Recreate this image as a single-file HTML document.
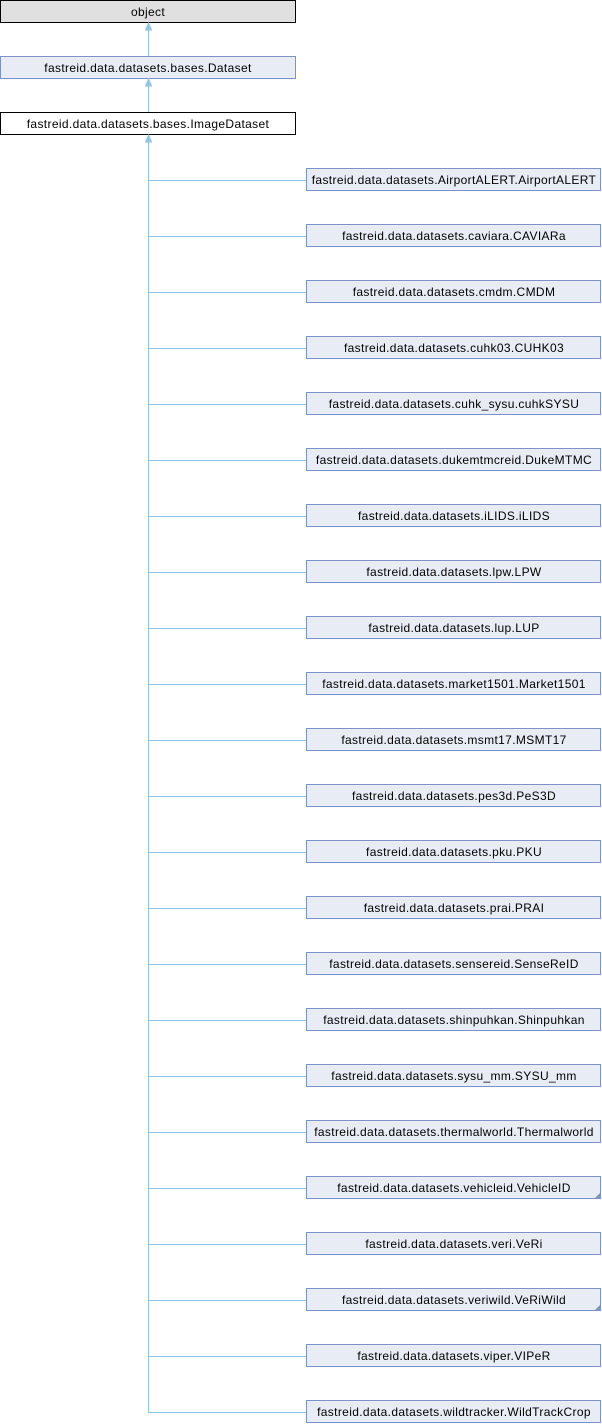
<!DOCTYPE html>
<html><head><meta charset="utf-8"><style>
html,body{margin:0;padding:0;background:#fff}
svg{display:block}
text{font-family:"Liberation Sans",sans-serif;font-size:12px;fill:#000;letter-spacing:0.35px}
</style></head><body>
<svg width="602" height="1424" viewBox="0 0 602 1424" xmlns="http://www.w3.org/2000/svg">
<g id="top">
<rect x="0.5" y="0.5" width="295" height="22" fill="#e0e0e0" stroke="#000"/>
<text x="148" y="16" text-anchor="middle">object</text>
<rect x="0.5" y="56.5" width="295" height="22" fill="#e8ecf5" stroke="#7d92c8"/>
<text x="148" y="72" text-anchor="middle">fastreid.data.datasets.bases.Dataset</text>
<rect x="0.5" y="112.5" width="295" height="22" fill="#fff" stroke="#000"/>
<text x="148" y="128" text-anchor="middle">fastreid.data.datasets.bases.ImageDataset</text>
<g stroke="#8fc6e6" fill="#8fc6e6">
<line x1="148.5" y1="29" x2="148.5" y2="56"/>
<polygon points="148.5,23 145.5,30 151.5,30"/>
<line x1="148.5" y1="85" x2="148.5" y2="112"/>
<polygon points="148.5,79 145.5,86 151.5,86"/>
<line x1="148.5" y1="141" x2="148.5" y2="1412"/>
<polygon points="148.5,135 145.5,142 151.5,142"/>
</g>
</g>
<g id="kids"></g>
</svg>
<script>
var names=["AirportALERT.AirportALERT","caviara.CAVIARa","cmdm.CMDM","cuhk03.CUHK03","cuhk_sysu.cuhkSYSU","dukemtmcreid.DukeMTMC","iLIDS.iLIDS","lpw.LPW","lup.LUP","market1501.Market1501","msmt17.MSMT17","pes3d.PeS3D","pku.PKU","prai.PRAI","sensereid.SenseReID","shinpuhkan.Shinpuhkan","sysu_mm.SYSU_mm","thermalworld.Thermalworld","vehicleid.VehicleID","veri.VeRi","veriwild.VeRiWild","viper.VIPeR","wildtracker.WildTrackCrop"];
var g=document.getElementById('kids'),s='';
names.forEach(function(n,i){var y=168+56*i;
s+='<line x1="148" y1="'+(y+12.5)+'" x2="306" y2="'+(y+12.5)+'" stroke="#8fc6e6"/>';
s+='<rect x="306.5" y="'+(y+0.5)+'" width="294" height="22" fill="#e8ecf5" stroke="#7d92c8"/>';
if(n=="vehicleid.VehicleID"||n=="veriwild.VeRiWild")s+='<polygon points="600,'+(y+17)+' 600,'+(y+22)+' 595,'+(y+22)+'" fill="#7d92c8"/>';
s+='<text x="454" y="'+(y+16)+'" text-anchor="middle">fastreid.data.datasets.'+n+'</text>';});
g.innerHTML=s;
</script>
</body></html>
